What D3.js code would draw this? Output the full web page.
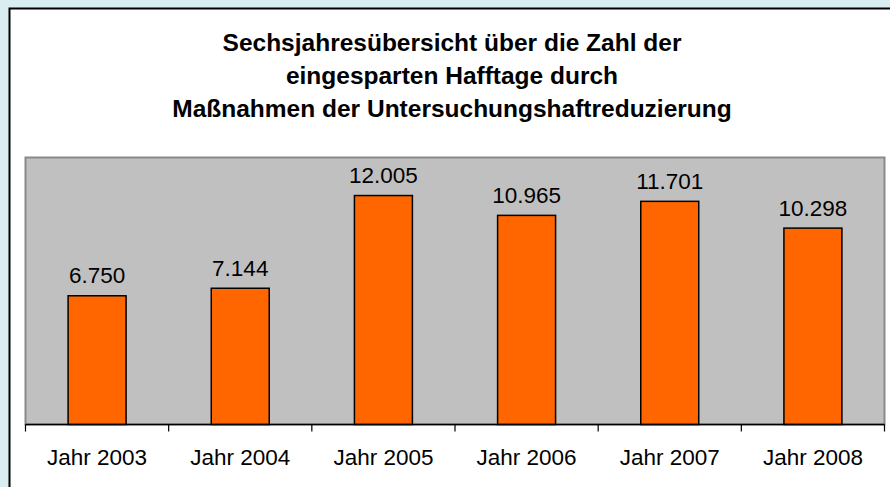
<!DOCTYPE html>
<html><head><meta charset="utf-8">
<script src="https://cdn.jsdelivr.net/npm/d3@7"></script>
<style>
html,body{margin:0;padding:0;background:#daedf1;overflow:hidden}
svg{display:block}
</style></head>
<body>
<script>
const categories = ["Jahr 2003","Jahr 2004","Jahr 2005","Jahr 2006","Jahr 2007","Jahr 2008"];
const values = [6750, 7144, 12005, 10965, 11701, 10298];
const valueLabels = ["6.750","7.144","12.005","10.965","11.701","10.298"];
const titleLines = ["Sechsjahresübersicht über die Zahl der","eingesparten Hafftage durch","Maßnahmen der Untersuchungshaftreduzierung"];

(function () {
const W = 890, H = 487;
const svg = d3.select("body").append("svg").attr("width", W).attr("height", H);
const font = "'Liberation Sans', Arial, sans-serif";

// outer chart box
svg.append("rect").attr("x", 9.5).attr("y", 8.5).attr("width", 900).attr("height", 500)
  .attr("fill", "#ffffff").attr("stroke", "#000").attr("stroke-width", 2);

// title
const title = svg.append("text").attr("text-anchor", "middle")
  .attr("font-family", font).attr("font-weight", "bold").attr("font-size", 24.5).attr("fill", "#000");
titleLines.forEach((t, i) => {
  title.append("tspan").attr("x", 452).attr("y", 51 + i * 33).text(t);
});

const pL = 25.5, pR = 884.5, pT = 157.5, pB = 424.5;
const x = d3.scaleBand().domain(categories).range([pL, pR]).paddingInner(0.595).paddingOuter(0.2975);
const xOuter = d3.scaleBand().domain(categories).range([pL, pR]);
const y = d3.scaleLinear().domain([0, 14000]).range([pB, pT]);

// plot area
svg.append("rect").attr("x", pL).attr("y", pT).attr("width", pR - pL).attr("height", pB - pT)
  .attr("fill", "#c0c0c0").attr("stroke", "#8a8a8a").attr("stroke-width", 2);

// bars
svg.selectAll("rect.bar").data(values).enter().append("rect").attr("class", "bar")
  .attr("x", (d, i) => x(categories[i]))
  .attr("y", d => y(d))
  .attr("width", x.bandwidth())
  .attr("height", d => pB - y(d))
  .attr("fill", "#ff6600").attr("stroke", "#000").attr("stroke-width", 1.5);

// value labels
svg.selectAll("text.val").data(values).enter().append("text").attr("class", "val")
  .attr("x", (d, i) => x(categories[i]) + x.bandwidth() / 2)
  .attr("y", d => y(d) - 12.5)
  .attr("text-anchor", "middle").attr("font-family", font).attr("font-size", 22.5).attr("fill", "#000")
  .text((d, i) => valueLabels[i]);

// x axis
const axis = d3.axisBottom(xOuter).tickSize(0).tickPadding(0);
const gAxis = svg.append("g").attr("transform", `translate(0,${pB})`).call(axis);
gAxis.select(".domain").remove();
gAxis.selectAll("text").attr("font-family", font).attr("font-size", 22.5).attr("fill", "#000")
  .attr("dy", null).attr("y", 40.5);
svg.append("line").attr("x1", pL).attr("x2", pR).attr("y1", pB).attr("y2", pB)
  .attr("stroke", "#000").attr("stroke-width", 1.5);
const tickPos = categories.map(c => xOuter(c)).concat([pR]);
svg.selectAll("line.tick").data(tickPos).enter().append("line").attr("class", "tick")
  .attr("x1", d => d).attr("x2", d => d).attr("y1", pB).attr("y2", pB + 7)
  .attr("stroke", "#000").attr("stroke-width", 1.2);
})();
</script>
</body></html>
